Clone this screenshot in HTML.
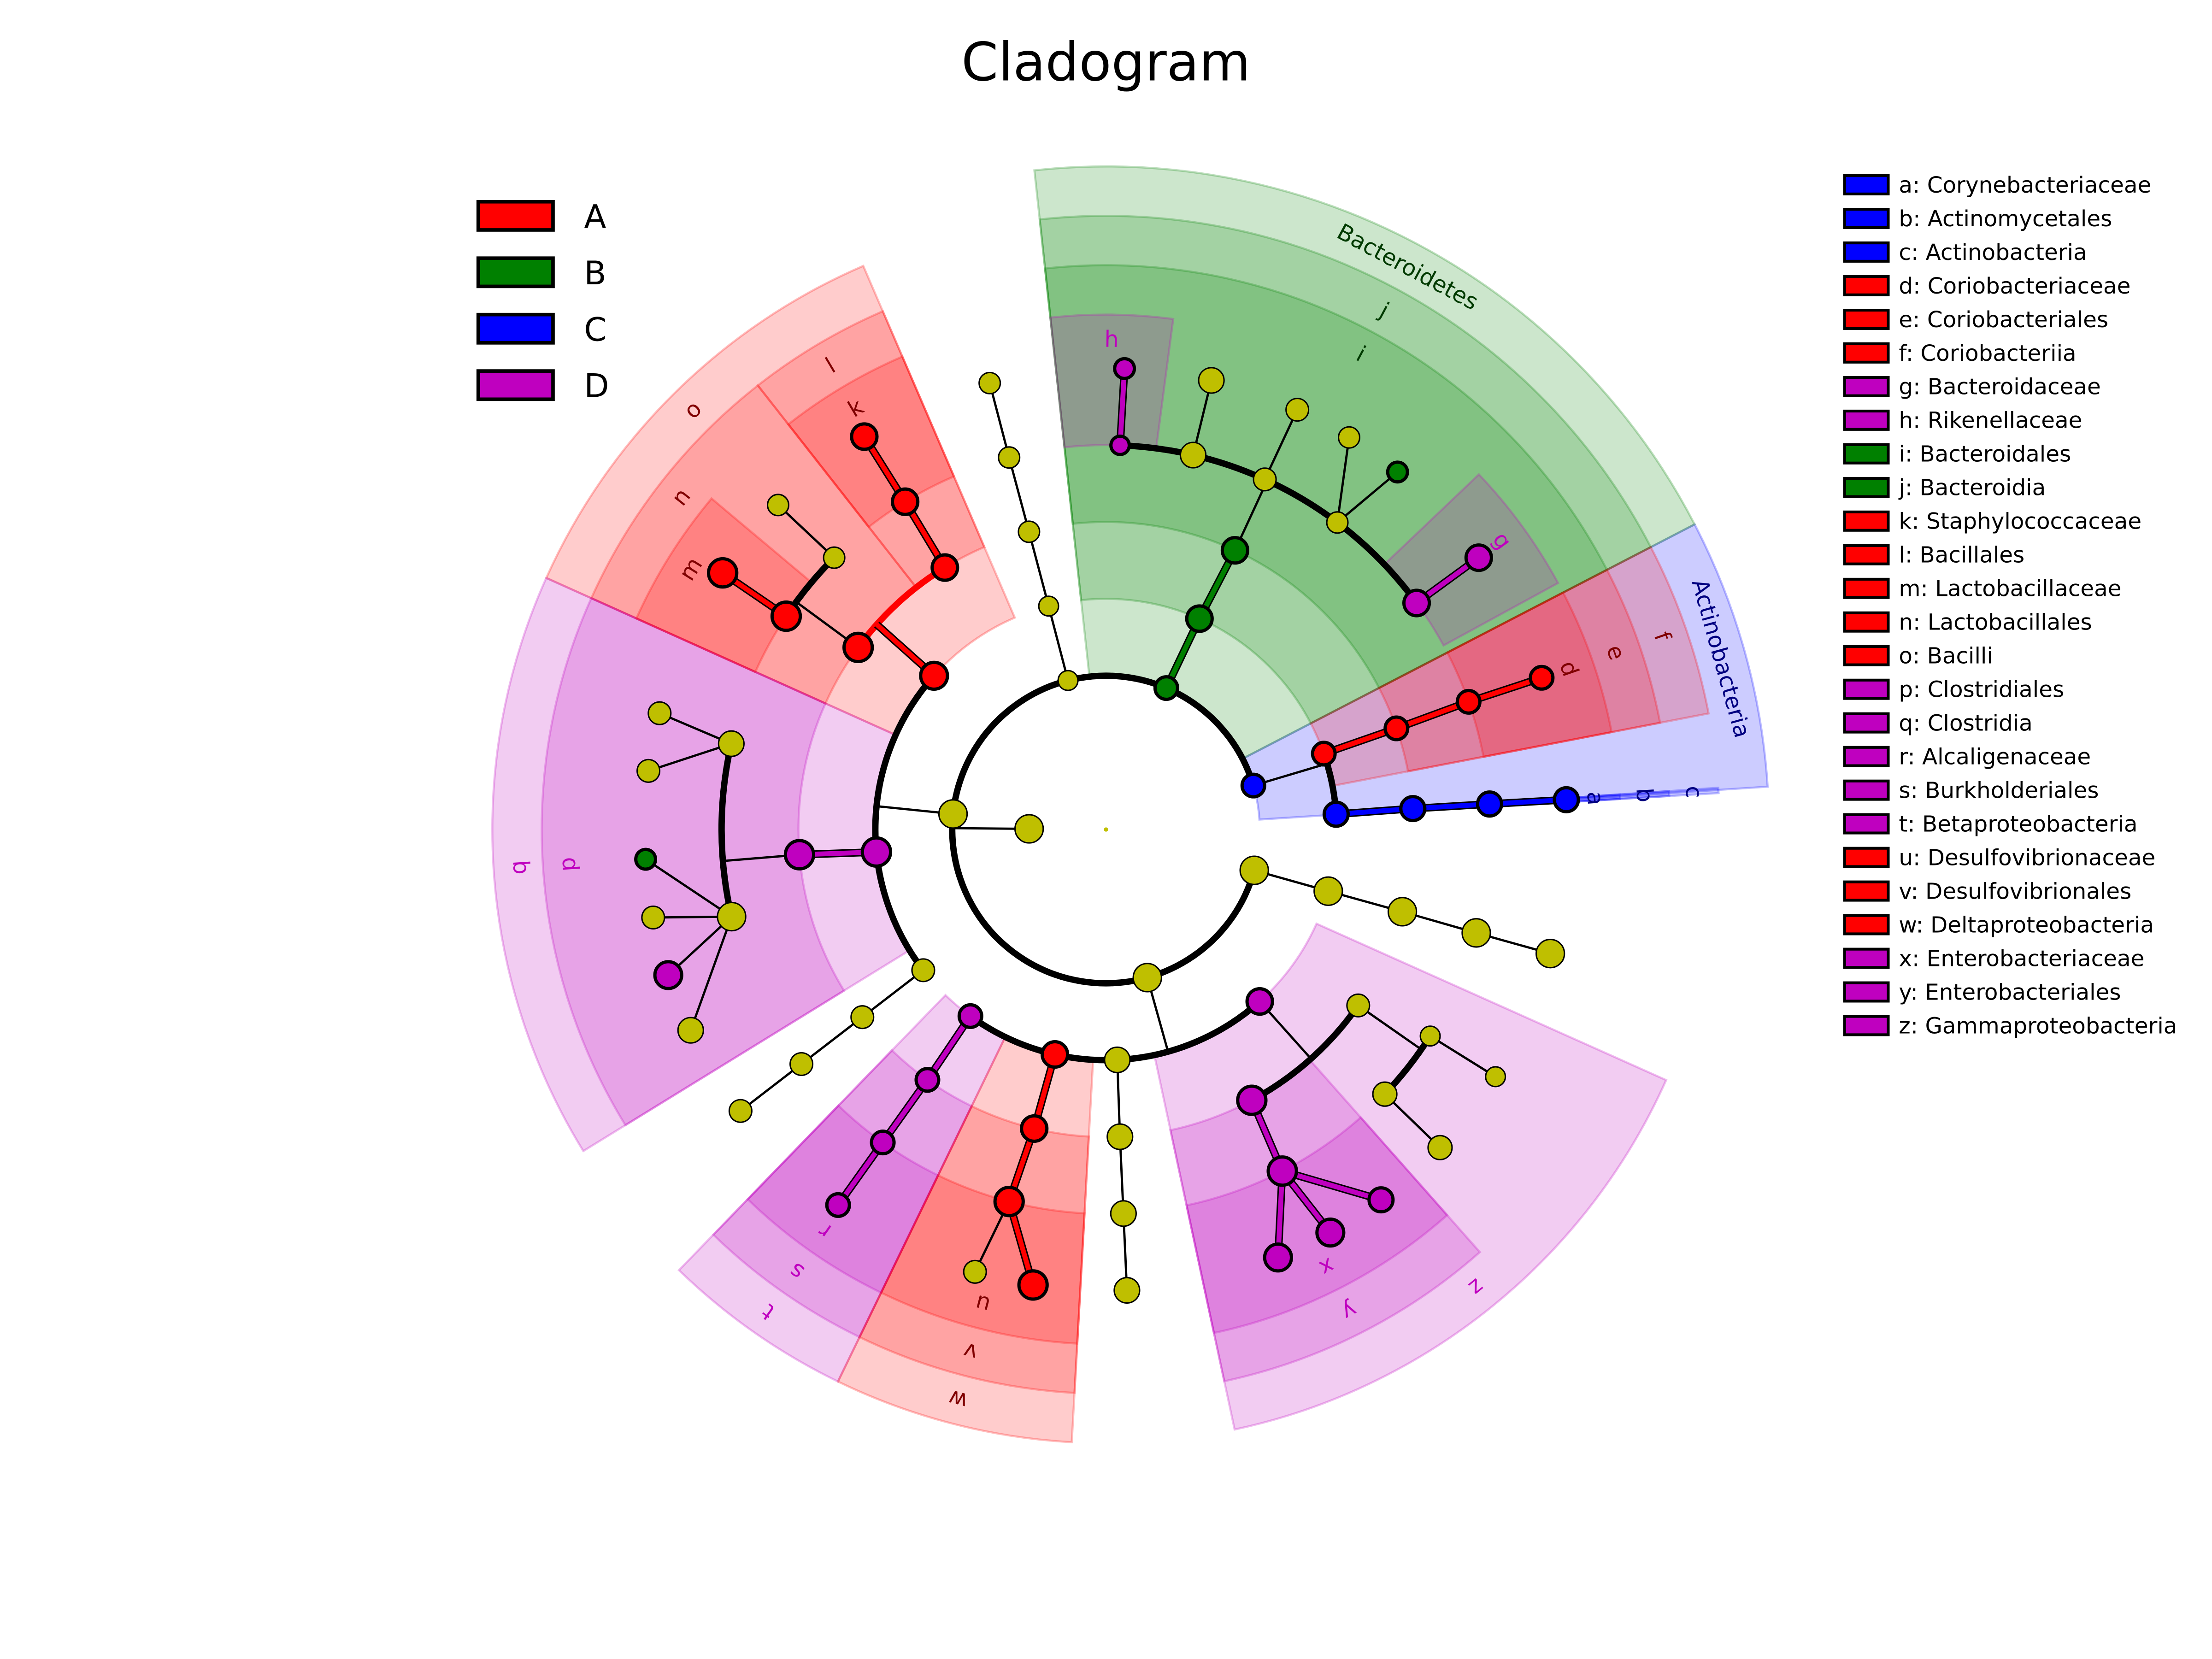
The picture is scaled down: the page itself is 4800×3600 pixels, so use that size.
<!DOCTYPE html>
<html>
<head>
<meta charset="utf-8">
<style>
  html,body{margin:0;padding:0;background:#fff;}
  svg{display:block;}
  text{font-family:"DejaVu Sans","Liberation Sans",sans-serif;}
</style>
</head>
<body>
<svg id="chart" xmlns="http://www.w3.org/2000/svg" width="4800" height="3600" viewBox="0 0 1568 1176">
  <rect x="0" y="0" width="1568" height="1176" fill="#ffffff"/>
  <text x="784" y="57" font-size="37.5" text-anchor="middle" fill="#000">Cladogram</text>
  <g id="sectors"></g>
  <g id="edges"></g>
  <g id="nodes"></g>
  <g id="labels"></g>
  <g id="legend-left"></g>
  <g id="legend-right"></g>
</svg>
<script>
// ---------- data ----------
const groupNames = ["A","B","C","D"];
const groupColors = {Y:"#bfbf00", A:"#ff0000", B:"#008000", C:"#0000ff", D:"#bf00bf"};
const labelColors = {A:"#800000", B:"#003a00", C:"#000080", D:"#bf00bf"};

// tree nodes (level: 0 root, 1 kingdom, 2 phylum, 3 class, 4 order, 5 family, 6 genus)
const nodeLevels  = [0,1,2,2,2,2,2,2, 3,4,5,6,3,4,5,6, 3,4,5,6,5,6,5,6,5,6,6,5,6, 3,4,5,6, 3,4,5,6,
                     3,4,5,6,5,6,4,5,6, 3,4,5,6,6,5,6,6,6,6, 3,4,5,6,
                     3,4,5,6,6, 3,4,5,6, 3,4,5,6, 3,4,5,6,6,6,4,5,6,5,6];
const nodeAngles  = [0,180.5,-16.6,-66.9,-104.3,185.8,74.4,15.4,
                     -19.2,-19.2,-19.4,-19.2,-3.8,-3.9,-3.8,-3.7,
                     -66.1,-65.2,-87.9,-87.7,-76.9,-76.8,-65.6,-65.5,-53.0,-58.2,-50.8,-36.1,-36.1,
                     -104.4,-104.5,-104.6,-104.6, 15.5,15.5,15.6,15.6,
                     221.8,216.3,213.7,213.8,225,224.7,238.4,238.5,238.4,
                     174.4,175.3,192.9,194.6,187.3,166.9,176.3,169,161.6,154.2,
                     142.4,142.4,142.4,142.4,
                     102.8,103.5,104.6,106.5,99.1,
                     126,125.5,125.5,125.5,
                     87.2,87.4,87.4,87.4,
                     48.2,61.7,62.7,68.1,60.9,53.4,34.9,32.5,32.4,43.5,43.6];
const nodeGroups  = ["Y","Y","C","B","Y","Y","Y","Y",
                     "A","A","A","A","C","C","C","C",
                     "B","B","D","D","Y","Y","Y","Y","Y","Y","B","D","D",
                     "Y","Y","Y","Y","Y","Y","Y","Y",
                     "A","A","A","A","Y","Y","A","A","A",
                     "D","D","Y","Y","Y","Y","B","Y","D","Y",
                     "Y","Y","Y","Y",
                     "A","A","A","Y","A",
                     "D","D","D","D",
                     "Y","Y","Y","Y",
                     "D","D","D","D","D","D","Y","Y","Y","Y","Y"];
const nodeSizes   = [1.5,10,8,8,7,10,10,10,
                     8,8,8,8,8.5,8.5,8.5,8.5,
                     9,9,6.5,7,9,9,8,8,7.5,7.5,7,9,9,
                     7,7.5,7.5,7.5,10,10,10,10,
                     9.5,10,10,10,7.5,7.5,9,9,9,
                     10,10,9,8,8,10,7,8,9.5,9,
                     8,8,8,8,
                     9,9,10,8,10,
                     8,8,8,8,
                     9,9,9,9,
                     9,10,10,9.5,9.5,8.5,8,7,7,8.5,8.5];
const nodeParents = [-1,0,1,1,1,1,1,1,
                     2,8,9,10,2,12,13,14,
                     3,16,17,18,17,20,17,22,17,24,24,17,27,
                     4,29,30,31,7,33,34,35,
                     5,37,38,39,38,41,37,43,44,
                     5,46,47,48,48,47,51,51,51,51,
                     5,56,57,58,
                     6,60,61,62,62,
                     6,65,66,67,
                     6,69,70,71,
                     6,73,74,75,75,75,73,79,80,79,82];

// shaded clade sectors (level 2 phylum ... 5 family)
const sectorLabels = ["Actinobacteria","Bacteroidetes","j","f","c","o","q","t","w","z",
                      "i","e","b","n","l","p","s","v","y",
                      "h","g","d","a","m","k","r","u","x"];
const sectorStart  = [-27.4,-96.2,-96.2,-27.4,-3.9,204.2,148.4,115.9,93.2,24.1,
                      -96.2,-27.4,-3.9,204.2,231.9,148.4,115.9,93.2,48.5,
                      -96.2,-43.6,-27.4,-3.9,204.2,231.9,115.9,93.2,48.5];
const sectorEnd    = [-3.7,-27.4,-27.4,-10.9,-3.4,246.7,204.2,134.1,115.9,77.9,
                      -27.4,-10.9,-3.4,231.9,246.7,204.2,134.1,115.9,77.9,
                      -82.5,-28.6,-10.9,-3.4,220,246.7,134.1,115.9,77.9];
const sectorLevels = [2,2,3,3,3,3,3,3,3,3,
                      4,4,4,4,4,4,4,4,4,
                      5,5,5,5,5,5,5,5,5];
const sectorGroups = ["C","B","B","A","C","A","D","D","A","D",
                      "B","A","C","A","A","D","D","A","D",
                      "D","D","A","C","A","A","D","A","D"];

// legend entries
const legendLetters = ["a","b","c","d","e","f","g","h","i","j","k","l","m","n","o","p","q","r","s","t","u","v","w","x","y","z"];
const legendNames = ["Corynebacteriaceae","Actinomycetales","Actinobacteria","Coriobacteriaceae","Coriobacteriales","Coriobacteriia",
  "Bacteroidaceae","Rikenellaceae","Bacteroidales","Bacteroidia","Staphylococcaceae","Bacillales","Lactobacillaceae",
  "Lactobacillales","Bacilli","Clostridiales","Clostridia","Alcaligenaceae","Burkholderiales","Betaproteobacteria",
  "Desulfovibrionaceae","Desulfovibrionales","Deltaproteobacteria","Enterobacteriaceae","Enterobacteriales","Gammaproteobacteria"];
const legendGroups = ["C","C","C","A","A","A","D","D","B","B","A","A","A","A","A","D","D","D","D","D","A","A","A","D","D","D"];

// ---------- geometry helpers ----------
const NS = "http://www.w3.org/2000/svg";
const CX = 784, CY = 588, STEP = 54.5;
function radius(level){ return level * STEP; }
function outerR(level){ return 470 - 35 * (level - 2); }
function pt(r, a){ const t = a * Math.PI / 180; return [CX + r * Math.cos(t), CY + r * Math.sin(t)]; }
function norm(d){ while (d > 180) d -= 360; while (d <= -180) d += 360; return d; }
function mk(tag, attrs, parent){
  const e = document.createElementNS(NS, tag);
  for (const k in attrs) e.setAttribute(k, attrs[k]);
  parent.appendChild(e);
  return e;
}
function arcPath(r, a1, a2){
  const p1 = pt(r, a1), p2 = pt(r, a2);
  const large = (a2 - a1) > 180 ? 1 : 0;
  return `M${p1[0]},${p1[1]} A${r},${r} 0 ${large} 1 ${p2[0]},${p2[1]}`;
}
function wedgePath(r1, r2, a1, a2){
  const o1 = pt(r2, a1), o2 = pt(r2, a2), i2 = pt(r1, a2), i1 = pt(r1, a1);
  const large = (a2 - a1) > 180 ? 1 : 0;
  return `M${o1[0]},${o1[1]} A${r2},${r2} 0 ${large} 1 ${o2[0]},${o2[1]} L${i2[0]},${i2[1]} A${r1},${r1} 0 ${large} 0 ${i1[0]},${i1[1]} Z`;
}

// ---------- sectors ----------
const gSec = document.getElementById("sectors");
const gLab = document.getElementById("labels");
for (let i = 0; i < sectorLabels.length; i++){
  const L = sectorLevels[i];
  const col = groupColors[sectorGroups[i]];
  const p = mk("path", {d: wedgePath(radius(L), outerR(L), sectorStart[i], sectorEnd[i]),
    fill: col, "fill-opacity": 0.2, stroke: col, "stroke-opacity": 0.25, "stroke-width": 1.5}, gSec);
  
  
  const mid = (sectorStart[i] + sectorEnd[i]) / 2;
  const lr = outerR(L) - 17.5;
  const lp = pt(lr, mid);
  const t = mk("text", {x: lp[0], y: lp[1], "font-size": 16, "text-anchor": "middle",
    "dominant-baseline": "central", fill: labelColors[sectorGroups[i]],
    transform: `rotate(${mid + 90} ${lp[0]} ${lp[1]})`}, gLab);
  t.textContent = sectorLabels[i];
  
  
}

// ---------- edges ----------
const gEdge = document.getElementById("edges");
const children = nodeParents.map(() => []);
nodeParents.forEach((p, i) => { if (p >= 0) children[p].push(i); });
function nodePt(i){ return pt(radius(nodeLevels[i]), nodeAngles[i]); }
function thickLine(a, b, col, name){
  const k = mk("line", {x1:a[0], y1:a[1], x2:b[0], y2:b[1], stroke:"#000", "stroke-width":5.5}, gEdge);
  
  
  const c = mk("line", {x1:a[0], y1:a[1], x2:b[0], y2:b[1], stroke:col, "stroke-width":3.5}, gEdge);
  
  
}
function thinLine(a, b, name){
  const l = mk("line", {x1:a[0], y1:a[1], x2:b[0], y2:b[1], stroke:"#000", "stroke-width":1.6}, gEdge);
  
  
}
for (let p = 1; p < nodeParents.length; p++){
  const kids = children[p];
  if (!kids.length) continue;
  const internal = kids.filter(k => children[k].length > 0);
  const pp = nodePt(p);
  if (kids.length >= 2 && internal.length >= 1){
    const rc = radius(nodeLevels[kids[0]]);
    const ap = nodeAngles[p];
    const deltas = kids.map(k => norm(nodeAngles[k] - ap));
    const lo = Math.min(0, ...deltas), hi = Math.max(0, ...deltas);
    const colored = nodeGroups[p] !== "Y" && kids.every(k => nodeGroups[k] === nodeGroups[p]);
    const col = colored ? groupColors[nodeGroups[p]] : "#000";
    const arc = mk("path", {d: arcPath(rc, ap + lo, ap + hi), fill: "none", stroke: col, "stroke-width": 4.5}, gEdge);
    
    
    const foot = pt(rc, ap);
    if (colored) thickLine(pp, foot, col, 'branch-radial');
    else thinLine(pp, foot, 'branch-radial');
  } else {
    kids.forEach(k => {
      const kp = nodePt(k);
      if (nodeGroups[k] !== "Y" && nodeGroups[p] !== "Y") thickLine(pp, kp, groupColors[nodeGroups[k]], 'branch');
      else thinLine(pp, kp, 'branch');
    });
  }
}

// ---------- nodes ----------
const gNode = document.getElementById("nodes");
for (let i = 0; i < nodeLevels.length; i++){
  const c = nodePt(i);
  const g = nodeGroups[i];
  const attrs = {cx: c[0], cy: c[1], r: nodeSizes[i], fill: groupColors[g]};
  if (i > 0){ attrs.stroke = "#000"; attrs["stroke-width"] = g === "Y" ? 1 : 2.3; }
  const n = mk("circle", attrs, gNode);
  
  
}

// ---------- left legend ----------
const gLL = document.getElementById("legend-left");
groupNames.forEach((name, i) => {
  const y = 153 + 40 * i;
  const r = mk("rect", {x: 339, y: y - 10, width: 53, height: 20, fill: groupColors[name], stroke: "#000", "stroke-width": 2.5}, gLL);
  
  
  const t = mk("text", {x: 414, y: y + 8.5, "font-size": 23, fill: "#000"}, gLL);
  t.textContent = name;
  
  
});

// ---------- right legend ----------
const gRL = document.getElementById("legend-right");
legendLetters.forEach((ch, i) => {
  const y = 131 + 23.84 * i;
  const r = mk("rect", {x: 1307.5, y: y - 6.5, width: 31, height: 13, fill: groupColors[legendGroups[i]], stroke: "#000", "stroke-width": 2}, gRL);
  
  
  const t = mk("text", {x: 1346, y: y + 5.5, "font-size": 15.8, fill: "#000"}, gRL);
  t.textContent = ch + ": " + legendNames[i];
  
  
});
</script>
</body>
</html>
